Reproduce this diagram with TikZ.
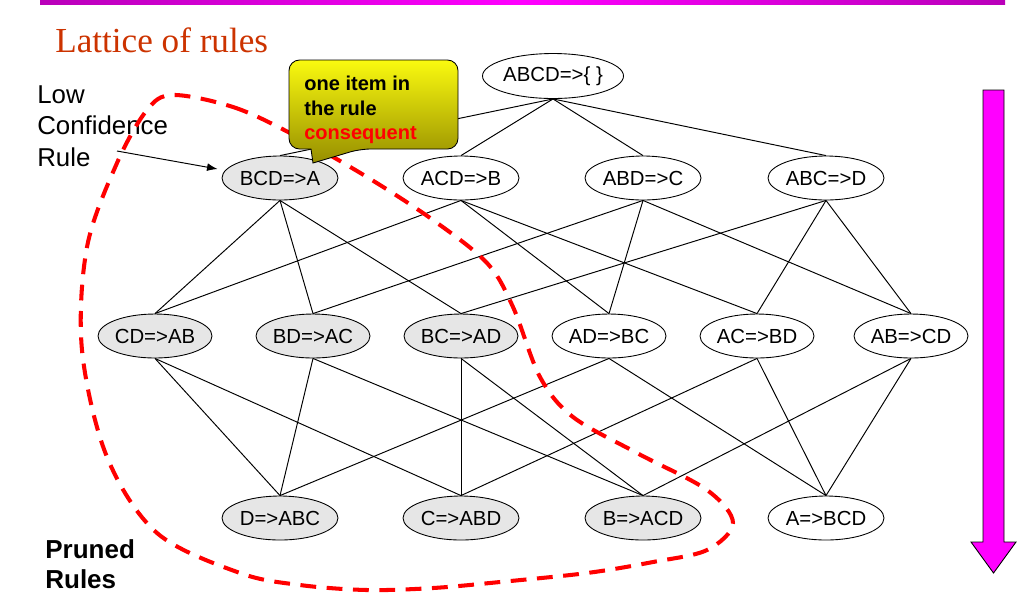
\documentclass[tikz,border=0pt]{standalone}
\usepackage{fontspec}
\setmainfont{Liberation Sans}
\newfontfamily\titlefont{Liberation Serif}
\usetikzlibrary{shapes.geometric, arrows.meta}
\definecolor{titlered}{RGB}{204,51,0}
\definecolor{barpurple}{RGB}{185,0,185}
\definecolor{barmagenta}{RGB}{255,0,255}
\definecolor{prunegray}{RGB}{230,230,230}
\definecolor{tipyellow}{RGB}{250,250,15}
\definecolor{tipolive}{RGB}{150,142,0}
\definecolor{borderred}{RGB}{255,0,0}
\begin{document}
\begin{tikzpicture}[x=0.02cm, y=-0.02cm,
    rulenode/.style={ellipse, draw, line width=0.5pt, fill=white, inner sep=0pt,
      minimum width=2.32cm, minimum height=0.88cm, font=\fontsize{11.6}{13}\selectfont},
    prunednode/.style={rulenode, fill=prunegray},
    edge/.style={line width=0.55pt}]
    \useasboundingbox (0,0) rectangle (1033,610);
    % header bar and title
    \shade[left color=barpurple, right color=barpurple, middle color=barmagenta] (40,0) rectangle (1005,4);
    \node[anchor=base west, inner sep=0pt, text=titlered, font=\titlefont\fontsize{20}{24}\selectfont] (title) at (55,52) {Lattice of rules};
    % the lattice
    \node (abcd) at (553,76) [rulenode, minimum width=2.68cm, minimum height=0.9cm] {ABCD=>\{ \}};
    \node (bcd) at (280,178) [prunednode] {BCD=>A};
    \node (acd) at (461,178) [rulenode] {ACD=>B};
    \node (abd) at (643,178) [rulenode] {ABD=>C};
    \node (abc) at (826,178) [rulenode] {ABC=>D};
    \node (cd) at (155,336) [prunednode, minimum width=2.28cm] {CD=>AB};
    \node (bd) at (313,336) [prunednode, minimum width=2.28cm] {BD=>AC};
    \node (bc) at (461,336) [prunednode, minimum width=2.28cm] {BC=>AD};
    \node (ad) at (609,336) [rulenode, minimum width=2.28cm] {AD=>BC};
    \node (ac) at (757,336) [rulenode, minimum width=2.28cm] {AC=>BD};
    \node (ab) at (911,336) [rulenode, minimum width=2.28cm] {AB=>CD};
    \node (d) at (280,518) [prunednode] {D=>ABC};
    \node (c) at (461,518) [prunednode] {C=>ABD};
    \node (b) at (643,518) [prunednode] {B=>ACD};
    \node (a) at (826,518) [rulenode] {A=>BCD};
    \foreach \u/\v in {abcd/bcd, abcd/acd, abcd/abd, abcd/abc,
        bcd/cd, bcd/bd, bcd/bc, acd/cd, acd/ad, acd/ac,
        abd/bd, abd/ad, abd/ab, abc/bc, abc/ac, abc/ab,
        cd/d, cd/c, bd/d, bd/b, bc/c, bc/b,
        ad/d, ad/a, ac/c, ac/a, ab/b, ab/a}
      \draw[edge] (\u.south) -- (\v.north);
    % labels on the left
    \node[anchor=north west, inner sep=0pt, align=left, font=\fontsize{14.7}{17.9}\selectfont] (lowtxt) at (37,85) {Low\\Confidence\\Rule};
    \coordinate (lowarr) at (117,151);
    \draw[edge, -{Latex[length=6pt, width=4.5pt]}] (lowarr) -- ([shift={(-4,-9)}]bcd.west);
    \node[anchor=north west, inner sep=0pt, align=left, font=\bfseries\fontsize{14.8}{17.2}\selectfont] (prunetxt) at (45,539) {Pruned\\Rules};
    % border of the pruned rules
    \draw[borderred, line width=2.3pt, dash pattern=on 9pt off 6pt]
      plot[smooth cycle, tension=0.55] coordinates {(173,95) (233,107) (290,133) (367,177)
        (433,220) (487,263) (513,307) (540,377) (573,417) (637,453) (707,490) (733,523)
        (707,550) (653,562) (587,573) (500,582) (433,588) (367,590) (300,585) (240,573)
        (157,533) (107,457) (82,350) (87,247) (117,163) (147,110)};
    % callout
    \shade[draw, line width=0.5pt, top color=tipyellow, bottom color=tipolive]
      (360,149) [sharp corners] -- (313,163) -- (311,149)
      [rounded corners=6pt] -- (289,149) -- (289,60) -- (458,60) -- (458,149) -- cycle;
    \node[anchor=north west, inner sep=0pt, align=left, font=\bfseries\fontsize{11.4}{13.8}\selectfont] (tiptxt) at (304,76) {one item in\\the rule\\\textcolor{borderred}{consequent}};
    % direction arrow
    \draw[line width=0.5pt, fill=barmagenta] (983,90) -- (1004,90) -- (1004,542) -- (1016,542)
      -- (993.5,573) -- (971,542) -- (983,542) -- cycle;
\end{tikzpicture}
\end{document}
